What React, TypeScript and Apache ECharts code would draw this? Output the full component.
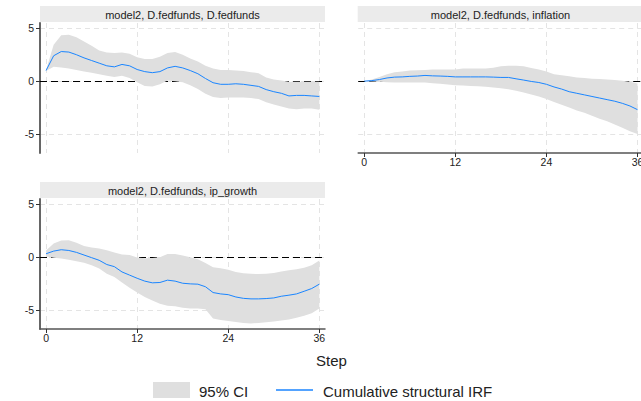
import React, { useEffect, useRef } from "react";
import * as echarts from "echarts";

const steps = [0, 1, 2, 3, 4, 5, 6, 7, 8, 9, 10, 11, 12, 13, 14, 15, 16, 17, 18, 19, 20, 21, 22, 23, 24, 25, 26, 27, 28, 29, 30, 31, 32, 33, 34, 35, 36];
const xTicks = [0, 12, 24, 36];
const yTicks = [-5, 0, 5];

const panelTitles = [
  "model2, D.fedfunds, D.fedfunds",
  "model2, D.fedfunds, inflation",
  "model2, D.fedfunds, ip_growth",
];

// D.fedfunds -> D.fedfunds
const ffIrf = [1.0, 2.4, 2.8, 2.75, 2.5, 2.2, 1.95, 1.7, 1.45, 1.35, 1.58, 1.45, 1.1, 0.9, 0.8, 0.9, 1.25, 1.4, 1.25, 1.0, 0.7, 0.25, -0.15, -0.3, -0.3, -0.25, -0.3, -0.4, -0.5, -0.8, -1.0, -1.15, -1.4, -1.35, -1.35, -1.4, -1.45];
const ffUpper = [1.05, 3.45, 4.35, 4.4, 4.15, 3.75, 3.35, 2.9, 2.7, 2.65, 2.7, 2.6, 2.25, 2.1, 2.1, 2.3, 2.65, 2.75, 2.5, 2.15, 1.85, 1.45, 1.2, 1.05, 1.05, 1.0, 0.95, 0.85, 0.75, 0.35, 0.15, 0.05, -0.05, -0.05, -0.05, -0.05, -0.05];
const ffLower = [0.95, 1.35, 1.3, 1.2, 1.05, 0.9, 0.8, 0.65, 0.5, 0.4, 0.5, 0.3, -0.1, -0.45, -0.5, -0.3, 0.05, 0.0, -0.1, -0.4, -0.75, -1.2, -1.5, -1.6, -1.55, -1.55, -1.55, -1.6, -1.7, -2.0, -2.2, -2.4, -2.6, -2.65, -2.6, -2.6, -2.7];

// D.fedfunds -> inflation
const infIrf = [0, 0.05, 0.15, 0.3, 0.38, 0.4, 0.45, 0.48, 0.54, 0.5, 0.48, 0.45, 0.4, 0.4, 0.4, 0.4, 0.4, 0.38, 0.35, 0.35, 0.22, 0.1, -0.03, -0.13, -0.3, -0.55, -0.75, -1.0, -1.15, -1.3, -1.45, -1.6, -1.75, -1.9, -2.1, -2.35, -2.7];
const infUpper = [0, 0.15, 0.4, 0.65, 0.85, 0.92, 1.0, 1.02, 1.05, 1.1, 1.1, 1.1, 1.1, 1.2, 1.2, 1.2, 1.2, 1.27, 1.4, 1.45, 1.45, 1.4, 1.25, 1.1, 0.9, 0.65, 0.55, 0.45, 0.35, 0.3, 0.22, 0.2, 0.15, 0.1, 0.03, -0.06, -0.22];
const infLower = [0, -0.03, -0.06, -0.1, -0.13, -0.13, -0.13, -0.13, -0.13, -0.2, -0.25, -0.32, -0.38, -0.41, -0.45, -0.48, -0.54, -0.6, -0.67, -0.76, -0.92, -1.08, -1.27, -1.46, -1.7, -1.97, -2.23, -2.5, -2.77, -3.0, -3.28, -3.55, -3.8, -4.1, -4.4, -4.75, -5.0];

// D.fedfunds -> ip_growth
const ipIrf = [0.32, 0.57, 0.7, 0.63, 0.45, 0.2, -0.05, -0.3, -0.7, -0.9, -1.4, -1.7, -2.0, -2.27, -2.43, -2.4, -2.18, -2.27, -2.47, -2.53, -2.56, -2.8, -3.35, -3.48, -3.55, -3.77, -3.9, -3.95, -3.95, -3.92, -3.86, -3.7, -3.6, -3.48, -3.23, -2.97, -2.56];
const ipUpper = [0.63, 1.3, 1.58, 1.6, 1.36, 1.05, 0.9, 0.82, 0.66, 0.44, 0.25, 0.19, -0.03, -0.1, -0.08, -0.02, 0.3, 0.3, 0.15, -0.02, -0.2, -0.55, -0.95, -1.05, -1.2, -1.4, -1.52, -1.58, -1.6, -1.58, -1.49, -1.36, -1.23, -1.14, -1.01, -0.76, -0.32];
const ipLower = [0.06, -0.06, -0.13, -0.25, -0.38, -0.54, -0.76, -1.08, -1.58, -1.87, -2.4, -2.9, -3.35, -3.77, -4.1, -4.4, -4.6, -4.65, -4.8, -4.87, -4.87, -4.94, -5.8, -5.95, -6.05, -6.14, -6.23, -6.27, -6.23, -6.17, -6.1, -6.0, -5.9, -5.73, -5.54, -5.3, -4.87];

const legendLabels = ["95% CI", "Cumulative structural IRF"];
const xTitle = "Step";

const irfs = [ffIrf, infIrf, ipIrf];
const uppers = [ffUpper, infUpper, ipUpper];
const lowers = [ffLower, infLower, ipLower];

const FONT = "'Liberation Sans', Arial, Helvetica, sans-serif";
const BLUE = "#1a85ff";
const BAND = "#dfdfdf";

export default function App() {
  const ref = useRef<HTMLDivElement>(null);
  useEffect(() => {
    const chart = echarts.init(ref.current!, null, { renderer: "svg" });
    const grids = [
      { left: 40, top: 23, width: 285, height: 130, outerBoundsMode: "none", containLabel: false },
      { left: 358.2, top: 23, width: 285, height: 130, outerBoundsMode: "none", containLabel: false },
      { left: 40, top: 199, width: 285, height: 130, outerBoundsMode: "none", containLabel: false },
    ];
    const showX = [false, true, true];
    const showY = [true, false, true];
    const gridLine = { show: true, lineStyle: { color: "#e4e4e4", type: [5, 4], width: 1 } };

    const xAxis = grids.map((_, i) => ({
      type: "value",
      gridIndex: i,
      min: -0.8,
      max: 36.75,
      axisLine: { show: showX[i], onZero: false, lineStyle: { color: "#555", width: 1.5 } },
      axisTick: { show: showX[i], length: 4, customValues: xTicks, lineStyle: { color: "#333", width: 1 } },
      axisLabel: { show: showX[i], customValues: xTicks, margin: 3, fontSize: 10.5, color: "#222", fontFamily: FONT },
      splitLine: gridLine,
    }));
    const yAxis = grids.map((_, i) => ({
      type: "value",
      gridIndex: i,
      min: -6.8,
      max: 5.5,
      axisLine: { show: showY[i], onZero: false, lineStyle: { color: "#666", width: 2 } },
      axisTick: { show: showY[i], length: 4, customValues: yTicks, lineStyle: { color: "#333", width: 1 } },
      axisLabel: { show: showY[i], customValues: yTicks, margin: 6, fontSize: 10.5, color: "#222", fontFamily: FONT },
      splitLine: gridLine,
    }));

    const series: any[] = [];
    grids.forEach((_, i) => {
      const lo = lowers[i];
      const hi = uppers[i];
      const irf = irfs[i];
      series.push({
        type: "custom",
        name: legendLabels[0],
        xAxisIndex: i,
        yAxisIndex: i,
        data: steps.map((s, k) => [s, lo[k], hi[k]]),
        encode: { x: 0, y: [1, 2] },
        silent: true,
        z: 2,
        renderItem: (params: any, api: any) => {
          if (params.dataIndex !== 0) return null;
          const pts: number[][] = [];
          for (let k = 0; k < steps.length; k++) pts.push(api.coord([steps[k], hi[k]]));
          for (let k = steps.length - 1; k >= 0; k--) pts.push(api.coord([steps[k], lo[k]]));
          return { type: "polygon", shape: { points: pts }, style: { fill: BAND, stroke: null } };
        },
        markLine: {
          z: 1,
          silent: true,
          symbol: ["none", "none"],
          label: { show: false },
          lineStyle: { color: "#000", type: [7, 4], width: 1.2 },
          data: [{ yAxis: 0 }],
        },
      });
      series.push({
        type: "line",
        name: legendLabels[1],
        xAxisIndex: i,
        yAxisIndex: i,
        data: steps.map((s, k) => [s, irf[k]]),
        symbol: "none",
        silent: true,
        lineStyle: { color: BLUE, width: 1 },
        z: 3,
      });
    });

    const textStyle = (text: string, size: number, align: string) => ({
      text,
      fill: "#222",
      font: `${size}px ${FONT}`,
      align,
      textAlign: align,
      verticalAlign: "middle",
      textVerticalAlign: "middle",
    });

    const graphic: any[] = [
      { type: "rect", shape: { x: 40, y: 6, width: 285, height: 16 }, style: { fill: "#ebebeb" } },
      { type: "rect", shape: { x: 357.7, y: 6, width: 290, height: 16 }, style: { fill: "#ebebeb" } },
      { type: "rect", shape: { x: 40, y: 182, width: 285, height: 16 }, style: { fill: "#ebebeb" } },
      { type: "text", x: 182.5, y: 14.5, style: textStyle(panelTitles[0], 11, "center") },
      { type: "text", x: 500.5, y: 14.5, style: textStyle(panelTitles[1], 11, "center") },
      { type: "text", x: 182.5, y: 190.5, style: textStyle(panelTitles[2], 11, "center") },
      { type: "text", x: 331.5, y: 360, style: textStyle(xTitle, 15, "center") },
      { type: "rect", shape: { x: 153, y: 382, width: 37, height: 16 }, style: { fill: BAND } },
      { type: "text", x: 199, y: 391, style: textStyle(legendLabels[0], 15, "left") },
      { type: "line", shape: { x1: 276, y1: 390, x2: 313, y2: 390 }, style: { stroke: BLUE, lineWidth: 1.5 } },
      { type: "text", x: 323, y: 391, style: textStyle(legendLabels[1], 15, "left") },
    ];

    chart.setOption({
      animation: false,
      backgroundColor: "#ffffff",
      grid: grids,
      xAxis,
      yAxis,
      series,
      graphic,
    });
    return () => chart.dispose();
  }, []);
  return <div ref={ref} style={{ position: "fixed", left: 0, top: 0, width: 641, height: 401 }} />;
}
